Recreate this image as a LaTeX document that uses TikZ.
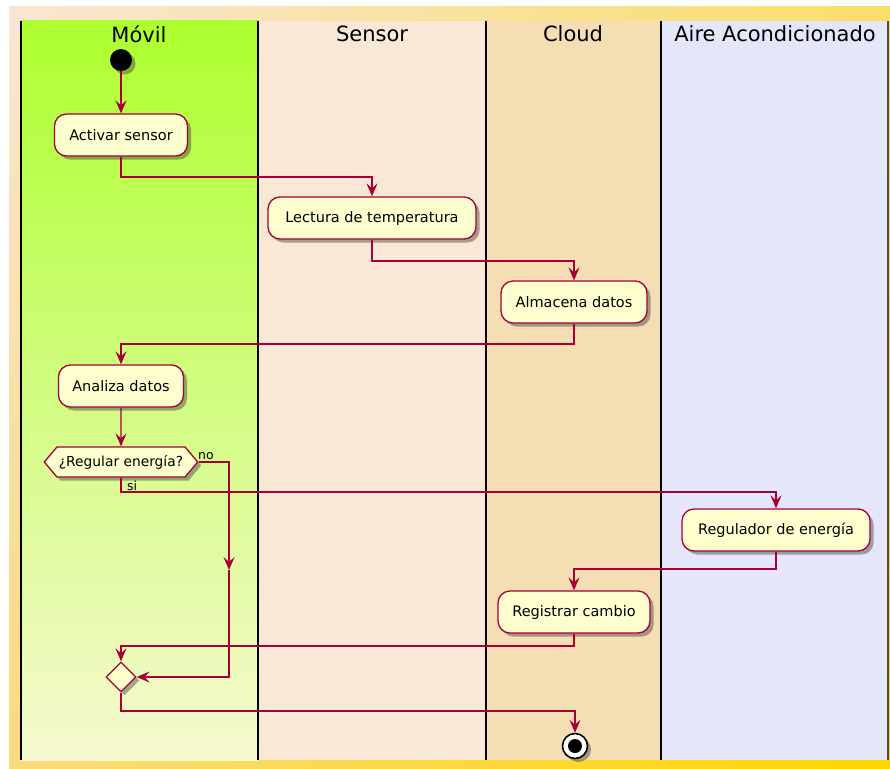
\documentclass[tikz,border=0pt]{standalone}
\usepackage{fontspec}
\setmainfont{DejaVu Sans}
\usetikzlibrary{arrows.meta,shapes.geometric,shapes.symbols,shadows,shadings,calc}
\definecolor{pumlred}{HTML}{A80036}
\definecolor{pumlbox}{HTML}{FEFECE}
\definecolor{bgTL}{HTML}{F8E6D4}
\definecolor{bgTR}{HTML}{FADE6A}
\definecolor{bgBL}{HTML}{FADA80}
\definecolor{bgBR}{HTML}{FFD700}
\definecolor{laneGreen}{HTML}{ADFF2F}
\definecolor{laneGreenB}{HTML}{F6F9D0}
\definecolor{laneSensor}{HTML}{F9E8D6}
\definecolor{laneCloud}{HTML}{F5DEB3}
\definecolor{laneAire}{HTML}{E6E6FA}
\tikzset{
  shadowed/.style={drop shadow={shadow xshift=3.5pt,shadow yshift=-3.5pt,opacity=0.45,fill=black!75}},
  act/.style={rectangle,rounded corners=12pt,draw=pumlred,fill=pumlbox,line width=1.3pt,
    minimum height=42pt,inner xsep=4pt,font=\fontsize{14.5}{17}\selectfont,shadowed},
  decis/.style={signal,signal to=west and east,signal pointer angle=100,draw=pumlred,fill=pumlbox,
    line width=1.3pt,minimum height=30pt,minimum width=151pt,inner xsep=2pt,inner ysep=0pt,
    font=\fontsize{13.8}{16}\selectfont,shadowed},
  mergebox/.style={diamond,draw=pumlred,fill=pumlbox,line width=1.3pt,minimum width=30pt,
    minimum height=30pt,inner sep=0pt,shadowed},
  flow/.style={draw=pumlred,line width=1.1pt,-{Stealth[length=13pt,width=11pt,inset=5pt]}},
  lbl/.style={font=\fontsize{12.5}{14}\selectfont,inner sep=0pt},
  hdr/.style={font=\fontsize{21}{25}\selectfont,inner sep=0pt},
  laneline/.style={draw=black,line width=1.8pt},
}
\begin{document}
\begin{tikzpicture}[x=1pt,y=-1pt]
\useasboundingbox (0,0) rectangle (890,768);
% background
\shade[upper left=bgTL,upper right=bgTR,lower left=bgBL,lower right=bgBR] (9,7) rectangle (890,768);
% lanes
\shade[top color=laneGreen,bottom color=laneGreenB] (21,21) rectangle (258,760);
\fill[laneSensor] (258,21) rectangle (486,760);
\fill[laneCloud] (486,21) rectangle (661,760);
\fill[laneAire] (661,21) rectangle (888,760);
\draw[laneline] (21,21) -- (21,760);
\draw[laneline] (258,21) -- (258,760);
\draw[laneline] (486,21) -- (486,760);
\draw[laneline] (661,21) -- (661,760);
\draw[laneline,draw=black!70] (888,21) -- (888,760);
% headers
\node[hdr] (h1) at (139,34) {Móvil};
\node[hdr] (h2) at (372,34) {Sensor};
\node[hdr] (h3) at (573,34) {Cloud};
\node[hdr] (h4) at (775,34) {Aire Acondicionado};
% nodes
\node[circle,fill=black,minimum size=22pt,inner sep=0pt,shadowed] (start) at (121,60) {};
\node[act,minimum width=133pt] (a1) at (121,135) {Activar sensor};
\node[act,minimum width=208pt] (lect) at (372,218) {Lectura de temperatura};
\node[act,minimum width=146pt] (alm) at (574,302) {Almacena datos};
\node[act,minimum width=125pt] (ana) at (121,386) {Analiza datos};
\node[decis] (dec) at (121,462) {¿Regular energía?};
\node[act,minimum width=188pt] (reg) at (776,530) {Regulador de energía};
\node[act,minimum width=152pt] (regc) at (574,612) {Registrar cambio};
\node[mergebox] (merge) at (121,677) {};
\node[circle,draw=black,line width=1.6pt,fill=white,minimum size=25pt,inner sep=0pt,shadowed,
  path picture={\fill[black] (path picture bounding box.center) circle (7pt);}] (end) at (575,746) {};
\node[lbl] (no) at (206,456) {no};
\node[lbl] (si) at (132,486) {si};
\coordinate (nomid) at (229,570);
% connectors
\draw[flow] (start) -- (a1);
\draw[flow] (a1.south) -- (a1.south |- 0,177) -| (lect.north);
\draw[flow] (lect.south) -- (lect.south |- 0,261) -| (alm.north);
\draw[flow] (alm.south) -- (alm.south |- 0,344) -| (ana.north);
\draw[flow] (ana) -- (dec);
\draw[flow] (dec.south) -- (dec.south |- 0,492) -| (reg.north);
\draw[flow] (dec.east) -- (dec.east -| nomid) -- (nomid);
\draw[flow] (nomid) -- (nomid |- merge) -- (merge.east);
\draw[flow] (reg.south) -- (reg.south |- 0,569) -| (regc.north);
\draw[flow] (regc.south) -- (regc.south |- 0,646) -| (merge.north);
\draw[flow] (merge.south) -- (merge.south |- 0,711) -| (end.north);
\end{tikzpicture}
\end{document}
